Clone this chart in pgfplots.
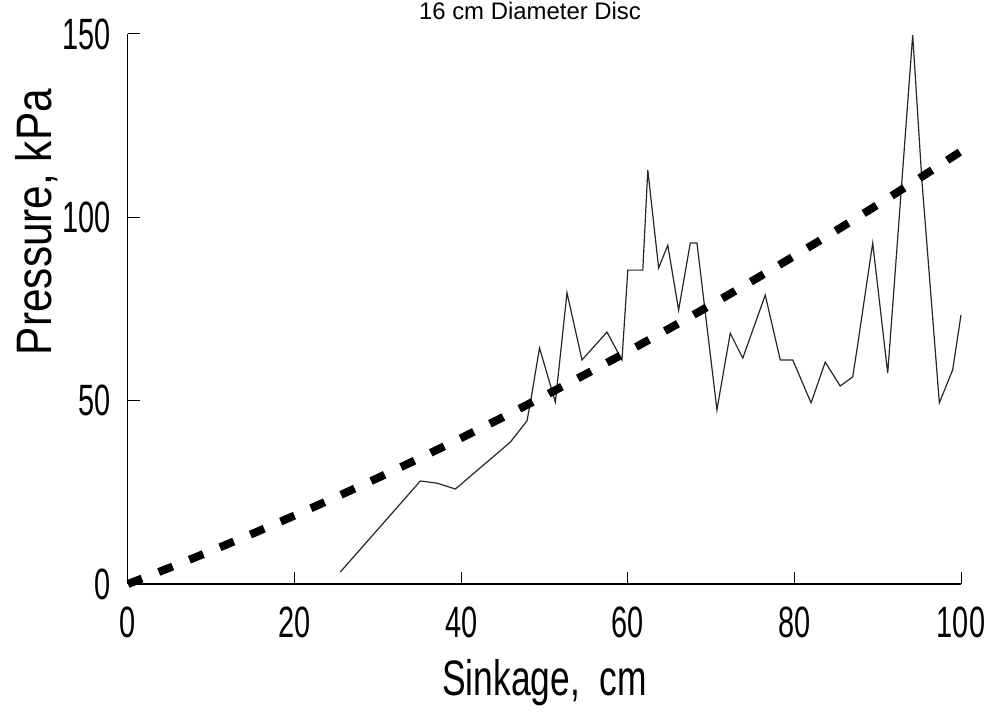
\documentclass[border=0pt]{standalone}
\usepackage{fontspec}
\setmainfont{Liberation Sans}[FakeStretch=0.66]
\newfontfamily\titlefont{Liberation Sans}
\newfontfamily\xlabelfont{Liberation Sans}[FakeStretch=0.71]
\newfontfamily\ylabelfont{Liberation Sans}[FakeStretch=0.85]
\usepackage{pgfplots}
\pgfplotsset{compat=1.18}

\begin{document}
\begin{tikzpicture}[x=1bp,y=1bp]
\begin{axis}[
  at={(0,0)}, anchor=origin,
  scale only axis, width=833bp, height=550bp,
  xmin=0, xmax=100, ymin=0, ymax=150,
  axis x line=bottom, axis y line=left,
  axis line style={-},
  x axis line style={line width=2bp},
  y axis line style={line width=1bp},
  xtick={0,20,40,60,80,100}, ytick={0,50,100,150},
  tick align=inside, major tick length=12bp,
  tick style={black, line width=1bp},
  /pgf/number format/assume math mode=true,
  ticklabel style={font=\fontsize{44}{44}\selectfont, inner sep=0pt},
  xticklabel style={yshift=-23bp},
  yticklabel style={xshift=-17bp},
  xlabel={Sinkage,\ \ cm},
  ylabel={Pressure, kPa},
  xlabel style={font=\xlabelfont\fontsize{50}{50}\selectfont,
    at={(axis description cs:0.5,-0.18)}, anchor=center},
  ylabel style={font=\ylabelfont\fontsize{50}{50}\selectfont,
    at={(axis description cs:-0.11,0.658)}, anchor=center},
  clip=false,
]
% measured pressure-sinkage record
\addplot[black!85, line width=1.2bp, line join=miter] coordinates {
  (25.5,3.3) (35.1,28.1) (37.1,27.5) (39.3,25.9) (45.9,38.7) (47.9,44.5)
  (48.4,50.7) (49.4,64.4) (51.3,49.6) (52.7,79.4) (54.5,61.1) (57.5,68.7)
  (59.3,61.1) (60.0,85.6) (61.8,85.6) (62.4,112.9) (63.7,86.2) (64.8,92.4)
  (66.1,74.7) (67.5,93.0) (68.3,93.0) (70.7,47.5) (72.3,68.4) (73.8,61.6)
  (76.5,78.8) (78.3,61.1) (79.8,61.1) (82.0,49.4) (83.7,60.5) (85.5,54.0)
  (87.0,56.5) (87.5,63.8) (89.4,93.0) (91.2,57.5) (94.2,149.7) (95.3,110.2)
  (97.4,49.4) (99.0,58.4) (100,73.4)
};
% predicted curve
\addplot[black, line width=8bp, dash pattern=on 15bp off 18bp] coordinates {
  (0,0) (5,4.44) (10,9.03) (15,13.77) (20,18.67) (25,23.73) (30,28.93)
  (35,34.29) (40,39.81) (45,45.48) (50,51.3) (55,57.28) (60,63.41)
  (65,69.69) (70,76.13) (75,82.73) (80,89.47) (85,96.37) (90,103.43)
  (95,110.64) (100,118.0)
};
\end{axis}
\node[anchor=base, font=\titlefont\fontsize{24}{24}\selectfont] at (402,564) {16 cm Diameter Disc};
\pgfresetboundingbox
\useasboundingbox (-128,-132) rectangle (864,584);
\end{tikzpicture}
\end{document}
